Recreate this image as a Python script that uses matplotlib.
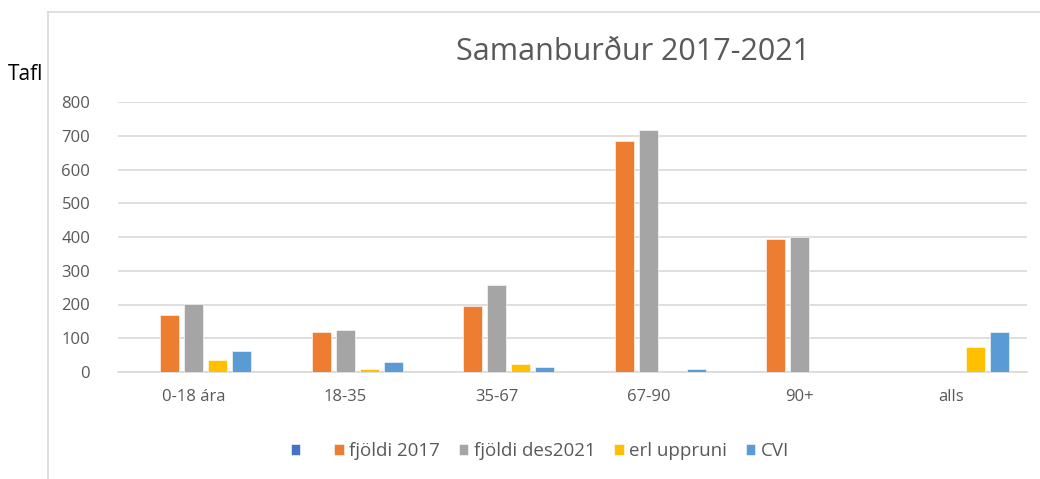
import matplotlib
matplotlib.use("Agg")
import matplotlib.pyplot as plt
import numpy as np
from matplotlib.lines import Line2D

plt.rcParams['font.family'] = ['Open Sans', 'DejaVu Sans']

categories = ["0-18 ára", "18-35", "35-67", "67-90", "90+", "alls"]
series_names = ["  ", "fjöldi 2017", "fjöldi des2021", "erl uppruni", "CVI"]
empty_series = [np.nan, np.nan, np.nan, np.nan, np.nan, np.nan]
fjoldi_2017 = [170, 118, 197, 683, 395, np.nan]
fjoldi_des2021 = [201, 124, 257, 717, 400, np.nan]
erl_uppruni = [35, 8, 25, 0, 0, 75]
cvi = [63, 31, 14, 8, 0, 119]
colors = ["#4472C4", "#ED7D31", "#A5A5A5", "#FFC000", "#5B9BD5"]

W, H = 1040, 479
fig = plt.figure(figsize=(W / 100, H / 100), dpi=100)
ax = fig.add_axes([118 / W, 1 - 372 / H, (1027 - 118) / W, (372 - 102) / H])

all_series = [empty_series, fjoldi_2017, fjoldi_des2021, erl_uppruni, cvi]
x = np.arange(len(categories))
pitch = 0.158
width = 0.125
handles = []
for j, (vals, name, c) in enumerate(zip(all_series, series_names, colors)):
    b = ax.bar(x + (j - 2) * pitch, vals, width, color=c, label=name,
               edgecolor="white", linewidth=0.4, zorder=3)
    handles.append(b)

ax.set_xlim(-0.5, len(categories) - 0.5)
ax.set_ylim(0, 800)
ax.set_yticks(np.arange(0, 801, 100))
ax.set_xticks(x)
ax.set_xticklabels(categories)
ax.yaxis.grid(True, color="#d9d9d9", linewidth=1.2, zorder=0)
ax.set_axisbelow(True)
for s in ["top", "right", "left"]:
    ax.spines[s].set_visible(False)
ax.spines["bottom"].set_color("#d9d9d9")
ax.spines["bottom"].set_linewidth(1.2)
ax.tick_params(axis="both", length=0, colors="#595959", labelsize=12)
ax.tick_params(axis="y", pad=20)
ax.tick_params(axis="x", pad=12)

fig.text(633 / W, 1 - 52 / H, "Samanburður 2017-2021", ha="center", va="center",
         fontsize=22, color="#595959")
fig.text(8 / W, 1 - 75 / H, "Tafl", ha="left", va="center", fontsize=15, color="black")

leg = fig.legend(handles=handles, labels=series_names, loc="center",
                 bbox_to_anchor=(540 / W, 1 - 451 / H), ncol=5, frameon=False,
                 fontsize=13.5, handlelength=0.5, handleheight=0.5,
                 handletextpad=0.3, columnspacing=1.0, labelcolor="#595959")

# chart border (partially visible)
fig.add_artist(Line2D([48 / W, 48 / W], [0, 1 - 12 / H], color="#d9d9d9", linewidth=1.2))
fig.add_artist(Line2D([48 / W, 1.0], [1 - 12 / H, 1 - 12 / H], color="#d9d9d9", linewidth=1.2))

fig.savefig("out.png", dpi=100)
